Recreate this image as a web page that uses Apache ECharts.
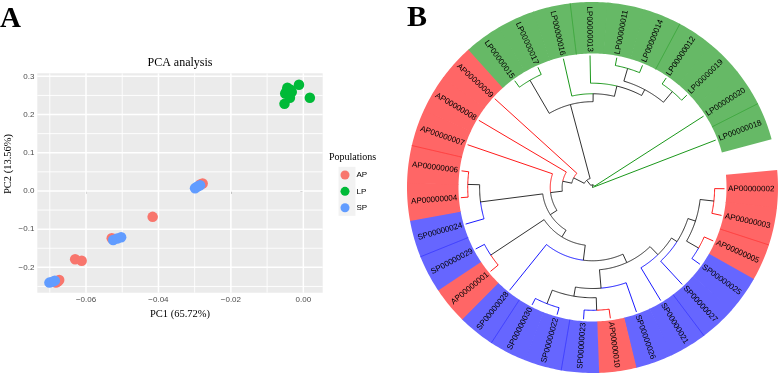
<!DOCTYPE html>
<html>
<head>
<meta charset="utf-8">
<script src="https://cdn.jsdelivr.net/npm/echarts@6.0.0/dist/echarts.min.js"></script>
<style>
html,body{margin:0;padding:0;background:#fff;}
#chart{width:781px;height:373px;}
</style>
</head>
<body>
<div id="chart"></div>
<script>
// ---------- A: PCA ----------
var apPoints = [[-0.0278,0.0193],[-0.0285,0.0170],[-0.0416,-0.0678],[-0.0630,-0.179],[-0.0612,-0.1826],
	[-0.0529,-0.124],[-0.0522,-0.1255],[-0.0674,-0.233],[-0.0683,-0.240],[-0.0678,-0.237]];
var lpPoints = [[-0.0012,0.278],[0.0018,0.244],[-0.0052,0.228],[-0.0044,0.270],[-0.0035,0.265],
	[-0.0050,0.255],[-0.0039,0.250],[-0.0032,0.259],[-0.0046,0.262],[-0.0037,0.244]];
var spPoints = [[-0.0299,0.007],[-0.0295,0.010],[-0.0291,0.012],[-0.0285,0.015],[-0.0525,-0.1286],
	[-0.0514,-0.1247],[-0.0503,-0.121],[-0.0701,-0.240],[-0.0692,-0.2374],[-0.0686,-0.2348]];
var xTicks = [-0.06,-0.04,-0.02,0];
var yTicks = [-0.2,-0.1,0,0.1,0.2,0.3];
var xMinor = [-0.07,-0.05,-0.03,-0.01];
var yMinor = [-0.25,-0.15,-0.05,0.05,0.15,0.25];
var xRange = [-0.07344,0.00534];
var yRange = [-0.2663,0.3079];

// ---------- B: dendrogram ----------
var leafNames = ['AP00000002','AP00000003','AP00000005','SP00000025','SP00000027','SP00000021','SP00000026',
	'AP00000010','SP00000023','SP00000022','SP00000030','SP00000028','AP00000001','SP00000029','SP00000024',
	'AP00000004','AP00000006','AP00000007','AP00000008','AP00000009','LP00000015','LP00000017','LP00000016',
	'LP00000013','LP00000011','LP00000014','LP00000012','LP00000019','LP00000020','LP00000018'];
var groupNames = ['AP','LP','SP'];
// internal nodes: id, child, child, depth (tips = 1)
var internalNodes = [
	['G1','AP00000002','AP00000003',0.925],
	['H1','AP00000005','SP00000025',0.925],
	['G2','G1','H1',0.82],
	['G3','G2','SP00000027',0.76],
	['G4','G3','SP00000021',0.71],
	['K1','SP00000023','AP00000010',0.93],
	['L1','SP00000022','SP00000030',0.945],
	['L2','K1','L1',0.835],
	['L3','SP00000026','L2',0.765],
	['L4','G4','L3',0.625],
	['N1','L4','SP00000028',0.555],
	['E1','AP00000001','SP00000029',0.925],
	['E2','N1','E1',0.44],
	['D1','AP00000004','AP00000006',0.945],
	['D2','SP00000024','D1',0.855],
	['E3','E2','D2',0.38],
	['P7','E3','AP00000007',0.32],
	['P8','P7','AP00000008',0.23],
	['P9','P8','AP00000009',0.16],
	['A1','LP00000015','LP00000017',0.94],
	['B1','LP00000011','LP00000014',0.94],
	['B2','LP00000012','LP00000019',0.945],
	['B3','B1','B2',0.84],
	['B4','LP00000013','B3',0.79],
	['B5','LP00000016','B4',0.71],
	['A2','A1','B5',0.65],
	['P10','P9','A2',0.07],
	['P11','P10','LP00000020',0.02],
	['root','P11','LP00000018',0]
];
var separators = [1.5,4.5,8.5,10.5,13.5,16.5,22.5,25.5,28.5];

var lineColors = ['#FF0000','#008B00','#0000FF','#1A1A1A'];
var bandColors = ['#FF6666','#66B966','#6666FF'];
var pointColors = ['#F8766D','#00BA38','#619CFF'];
var tipDepth = 1.0, bandInner = 1.015, bandOuter = 1.405, labelStart = 1.027;

function leafGroup(name){
	return groupNames.indexOf(name.slice(0,2));
}

//边: 父深度, 子深度, 父位置, 子位置, 颜色
function buildEdges(){
	var pos = {}, depth = {}, grp = {};
	leafNames.forEach(function(n,i){
		pos[n] = i; depth[n] = tipDepth; grp[n] = leafGroup(n);
	});
	var edges = [];
	internalNodes.forEach(function(nd){
		var id = nd[0];
		pos[id] = (pos[nd[1]] + pos[nd[2]]) / 2;
		depth[id] = nd[3];
		grp[id] = 3;
		[nd[1],nd[2]].forEach(function(c){
			edges.push([nd[3], depth[c], pos[id], pos[c], grp[c]]);
		});
	});
	return edges;
}

function renderEdge(params, api){
	var pr = api.value(0), cr = api.value(1), pa = api.value(2), ca = api.value(3), g = api.value(4);
	var pts = [];
	var n = Math.max(2, Math.ceil(Math.abs(ca - pa) / 0.05));
	for (var k = 0; k <= n; k++) {
		pts.push(api.coord([pr, pa + (ca - pa) * k / n]));
	}
	pts.push(api.coord([cr, ca]));
	return {
		type: 'polyline',
		shape: {points: pts},
		style: {stroke: lineColors[g], lineWidth: 0.9, fill: null}
	};
}

function renderBand(params, api){
	var i = api.value(1), g = api.value(2);
	var pts = [], n = 14, k;
	for (k = 0; k <= n; k++) pts.push(api.coord([bandOuter, i - 0.51 + 1.02 * k / n]));
	for (k = n; k >= 0; k--) pts.push(api.coord([bandInner, i - 0.51 + 1.02 * k / n]));
	return {type: 'polygon', shape: {points: pts}, style: {fill: bandColors[g]}};
}

function renderSeparator(params, api){
	var s = api.value(1), g = api.value(2);
	var a = api.coord([bandInner, s]), b = api.coord([bandOuter, s]);
	return {
		type: 'line',
		shape: {x1: a[0], y1: a[1], x2: b[0], y2: b[1]},
		style: {stroke: lineColors[g], opacity: 0.45, lineWidth: 0.8}
	};
}

function renderLabel(params, api){
	var i = api.value(1);
	var c = api.coord([0, i]), p = api.coord([labelStart, i]);
	var ang = Math.atan2(c[1] - p[1], p[0] - c[0]);
	var right = Math.cos(ang) >= 0;
	return {
		type: 'text',
		x: p[0], y: p[1],
		rotation: right ? ang : ang - Math.PI,
		style: {
			text: leafNames[params.dataIndex],
			fill: '#000',
			font: '8px "Liberation Sans"',
			align: right ? 'left' : 'right',
			verticalAlign: 'middle'
		}
	};
}

//网格线 (ggplot 灰底白线)
var xGridRows = [], yGridRows = [];
xTicks.forEach(function(v){ xGridRows.push({v: v, w: 1.5}); });
xMinor.forEach(function(v){ xGridRows.push({v: v, w: 0.9}); });
yTicks.forEach(function(v){ yGridRows.push({v: v, w: 1.5}); });
yMinor.forEach(function(v){ yGridRows.push({v: v, w: 0.9}); });

function renderXGrid(params, api){
	var r = xGridRows[params.dataIndex];
	var a = api.coord([r.v, yRange[0]]), b = api.coord([r.v, yRange[1]]);
	return {type: 'polyline', shape: {points: [a, b]}, style: {stroke: '#FFFFFF', lineWidth: r.w, fill: null}};
}
function renderYGrid(params, api){
	var r = yGridRows[params.dataIndex];
	var a = api.coord([xRange[0], r.v]), b = api.coord([xRange[1], r.v]);
	return {type: 'polyline', shape: {points: [a, b]}, style: {stroke: '#FFFFFF', lineWidth: r.w, fill: null}};
}

function minusFmt(d){
	return function(v){
		return (v < -1e-9 ? '\u2212' : '') + Math.abs(v).toFixed(d);
	};
}

var bandData = leafNames.map(function(n,i){ return [bandInner, i, leafGroup(n)]; });
var sepData = separators.map(function(s){ return [bandInner, s, leafGroup(leafNames[Math.floor(s)])]; });

var chart = echarts.init(document.getElementById('chart'), null, {renderer: 'canvas'});
var option = {
	animation: false,
	backgroundColor: '#FFFFFF',
	grid: {left: 37.33, top: 73.33, width: 285.34, height: 219.34, show: true, backgroundColor: '#EBEBEB', borderWidth: 0},
	xAxis: {
		type: 'value', min: xRange[0], max: xRange[1],
		axisLine: {show: false},
		axisTick: {show: true, length: 3, customValues: xTicks, lineStyle: {color: '#333333', width: 0.8}},
		axisLabel: {customValues: xTicks, formatter: minusFmt(2), color: '#4D4D4D', fontSize: 8, fontFamily: 'Liberation Sans', margin: 3},
		splitLine: {show: false},
		name: 'PC1 (65.72%)', nameLocation: 'middle', nameGap: 14,
		nameTextStyle: {fontFamily: 'Liberation Serif', fontSize: 10.5, color: '#000'}
	},
	yAxis: {
		type: 'value', min: yRange[0], max: yRange[1],
		axisLine: {show: false},
		axisTick: {show: true, length: 3, customValues: yTicks, lineStyle: {color: '#333333', width: 0.8}},
		axisLabel: {customValues: yTicks, formatter: minusFmt(1), color: '#4D4D4D', fontSize: 8, fontFamily: 'Liberation Sans', margin: 3},
		splitLine: {show: false}
	},
	polar: {center: [592.5, 187.5], radius: 185.5},
	angleAxis: {type: 'value', min: -0.5, max: 30.35, startAngle: 5.3, clockwise: true, show: false},
	radiusAxis: {type: 'value', min: 0, max: bandOuter, show: false},
	legend: {
		data: ['AP','LP','SP'], orient: 'vertical', left: 340.5, top: 170.5, padding: 0,
		itemWidth: 13, itemHeight: 9, itemGap: 7.35, icon: 'circle', selectedMode: false,
		textStyle: {fontSize: 8, fontFamily: 'Liberation Sans', color: '#000'}
	},
	graphic: [
		{type: 'rect', z: -1, shape: {x: 338.5, y: 166.8, width: 17, height: 49}, style: {fill: '#F2F2F2'}},
		{type: 'text', x: 0, y: 19.5, style: {text: 'A', font: 'bold 29px "Liberation Serif"', fill: '#000', verticalAlign: 'middle'}},
		{type: 'text', x: 407, y: 18, style: {text: 'B', font: 'bold 30px "Liberation Serif"', fill: '#000', verticalAlign: 'middle'}},
		{type: 'text', x: 180, y: 63, style: {text: 'PCA analysis', font: '12px "Liberation Serif"', fill: '#000', align: 'center', verticalAlign: 'middle'}},
		{type: 'text', x: 8.5, y: 164, rotation: Math.PI / 2,
			style: {text: 'PC2 (13.56%)', font: '10.5px "Liberation Serif"', fill: '#000', align: 'center', verticalAlign: 'middle'}},
		{type: 'text', x: 329, y: 157.5, style: {text: 'Populations', font: '10px "Liberation Serif"', fill: '#000', verticalAlign: 'middle'}}
	],
	series: [
		{type: 'custom', name: 'xgrid', coordinateSystem: 'cartesian2d', z: 1, silent: true,
			renderItem: renderXGrid, data: xGridRows.map(function(r){ return [r.v, 0]; })},
		{type: 'custom', name: 'ygrid', coordinateSystem: 'cartesian2d', z: 1, silent: true,
			renderItem: renderYGrid, data: yGridRows.map(function(r){ return [-0.03, r.v]; })},
		{type: 'scatter', name: 'AP', data: apPoints, symbolSize: 10.5, itemStyle: {color: pointColors[0], opacity: 1}, z: 3},
		{type: 'scatter', name: 'LP', data: lpPoints, symbolSize: 10.5, itemStyle: {color: pointColors[1], opacity: 1}, z: 3},
		{type: 'scatter', name: 'SP', data: spPoints, symbolSize: 10.5, itemStyle: {color: pointColors[2], opacity: 1}, z: 3},
		{type: 'custom', name: 'band', coordinateSystem: 'polar', z: 1, silent: true,
			renderItem: renderBand, data: bandData, encode: {radius: 0, angle: 1}},
		{type: 'custom', name: 'sep', coordinateSystem: 'polar', z: 2, silent: true,
			renderItem: renderSeparator, data: sepData, encode: {radius: 0, angle: 1}},
		{type: 'custom', name: 'labels', coordinateSystem: 'polar', z: 3, silent: true,
			renderItem: renderLabel, data: bandData, encode: {radius: 0, angle: 1}},
		{type: 'custom', name: 'tree', coordinateSystem: 'polar', z: 4, silent: true,
			renderItem: renderEdge, data: buildEdges(), encode: {radius: 0, angle: 2}}
	]
};
chart.setOption(option);
</script>
</body>
</html>
